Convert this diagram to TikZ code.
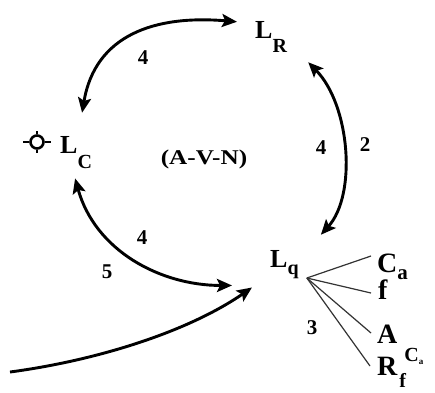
\documentclass[tikz,border=0pt]{standalone}
\usepackage{fontspec}
\setmainfont{Liberation Serif}
\usetikzlibrary{arrows.meta}
\newcommand\dgmL{\fontsize{26}{28}\selectfont\bfseries}
\newcommand\dgmS{\fontsize{20}{21}\selectfont\bfseries}
\newcommand\dgmR{\fontsize{28}{30}\selectfont\bfseries}
\newcommand\dgmD{\fontsize{21}{22}\selectfont\bfseries}
\begin{document}
\begin{tikzpicture}[x=1pt,y=-1pt,
  txt/.style={inner sep=0pt, anchor=base west},
  num/.style={inner sep=0pt, font=\dgmD},
  arr/.style={line width=2.9pt, -{Stealth[length=15pt,width=13pt,inset=3pt]}},
  darr/.style={line width=2.9pt, {Stealth[length=15pt,width=13pt,inset=3pt]}-{Stealth[length=15pt,width=13pt,inset=3pt]}},
  spoke/.style={line width=1.2pt, black!80},
  crossline/.style={line width=2.6pt}]
\useasboundingbox (0,0) rectangle (435,392);
\fill[white] (0,0) rectangle (435,392);

% main nodes
\node[txt] (LR) at (255,38) {\dgmL L\raisebox{-14pt}{\dgmS R}};
\node[txt] (LC) at (60,153) {\dgmL L\raisebox{-15pt}{\dgmS C}};
\node[txt] (Lq) at (270,267) {\dgmL L\raisebox{-7pt}{\dgmS q}};
\node[inner sep=0pt] (AVN) at (204,159) {\scalebox{1.2}[1]{\fontsize{21}{22}\selectfont\bfseries (A-V-N)}};

% crosshair
\node[draw, circle, crossline, minimum size=13pt, inner sep=0pt] (cross) at (37,142) {};
\draw[crossline] (cross.west) -- ([xshift=-6pt]cross.west);
\draw[crossline] (cross.east) -- ([xshift=6pt]cross.east);
\draw[crossline] (cross.north) -- ([yshift=3pt]cross.north);
\draw[crossline] (cross.south) -- ([yshift=-3pt]cross.south);

% right column
\node[txt] (Ca) at (377,272) {\dgmR C\raisebox{-7pt}{\fontsize{21}{21}\selectfont\bfseries a}};
\node[txt] (f) at (378,299) {\dgmR f};
\node[txt] (A) at (377,343) {\dgmR A};
\node[txt] (Rf) at (377,375) {\dgmR R\kern2pt\rlap{\raisebox{-12pt}{\dgmS f}}\kern5pt\raisebox{14pt}{\dgmS C\raisebox{-3pt}{\fontsize{9}{9}\selectfont\bfseries a}}};

% numbers
\node[num] (n1) at (143,58) {4};
\node[num] (n2) at (321,148) {4};
\node[num] (n3) at (365,145) {2};
\node[num] (n4) at (142,238) {4};
\node[num] (n5) at (107,272) {5};
\node[num] (n6) at (312,328) {3};

% spokes
\coordinate (hub) at ([shift={(8,11)}]Lq.base east);
\draw[spoke] (hub) -- ([shift={(-6,-16)}]Ca.base west);
\draw[spoke] (hub) -- ([shift={(-7,-6)}]f.base west);
\draw[spoke] (hub) -- ([shift={(-6,-10)}]A.base west);
\draw[spoke] (hub) -- ([shift={(-7,-9)}]Rf.base west);

% arrows
\draw[darr] ([shift={(6,-23)}]LC.north) .. controls +(13,-78) and +(-82,-7) .. ([shift={(-18,1)}]LR.north west);
\draw[darr] ([shift={(21,10)}]LR.south east) .. controls +(42,43) and +(36,-40) .. ([shift={(22,-15)}]Lq.north east);
\draw[darr] ([shift={(-1,10)}]LC.south) .. controls +(20,72) and +(-72,0) .. ([shift={(-38,7)}]Lq.south west);
\coordinate (start) at (10,372);
\draw[arr] (start) .. controls +(90,-12) and +(-62,43) .. ([shift={(-18,9)}]Lq.south west);
\end{tikzpicture}
\end{document}
